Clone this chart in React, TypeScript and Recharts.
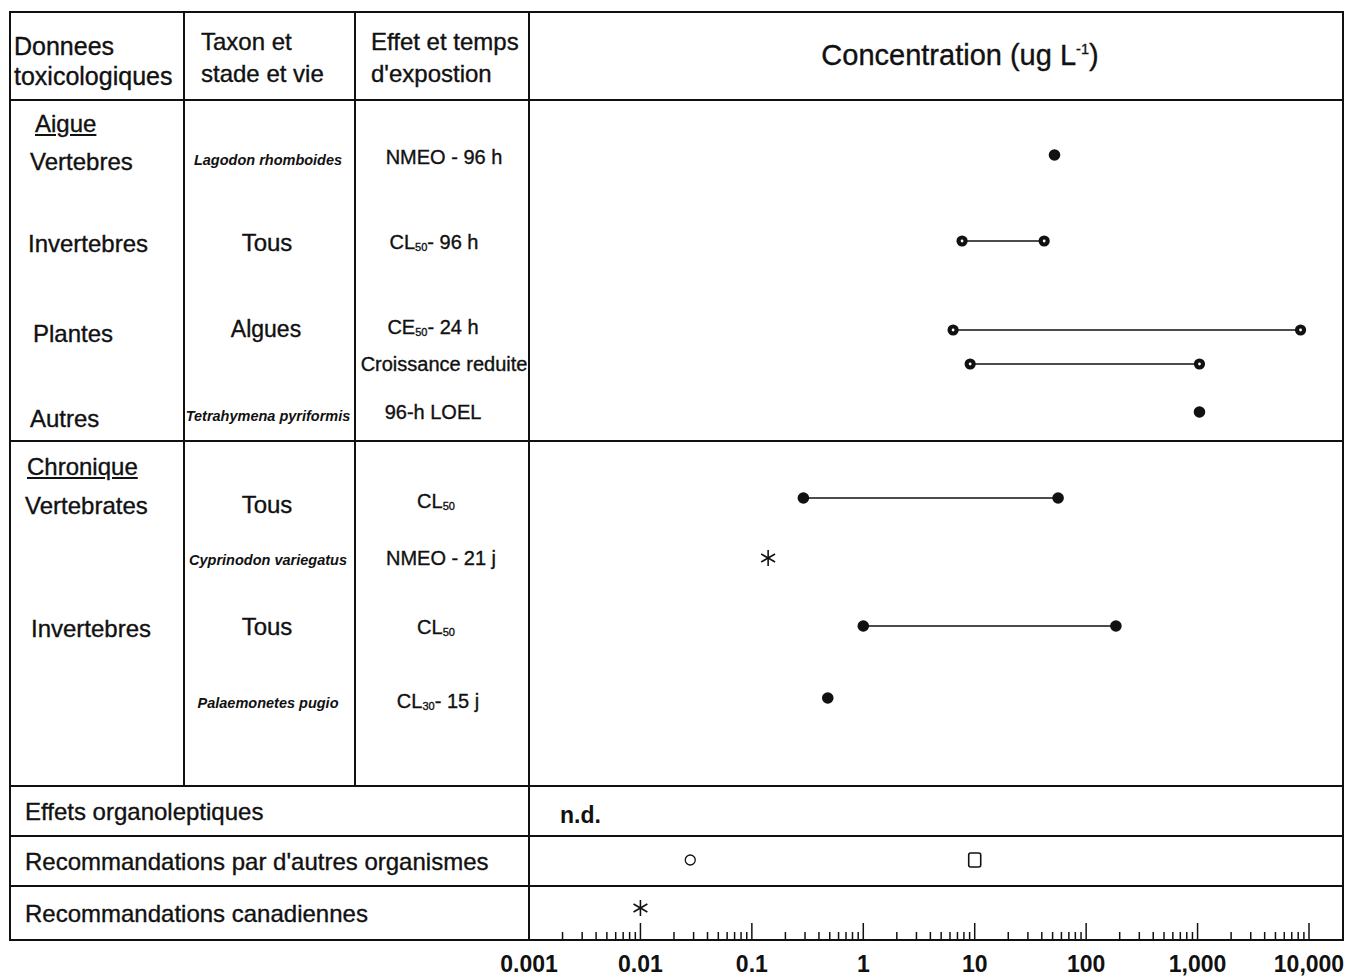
import React from 'react';
import { ScatterChart, Scatter, XAxis, YAxis } from 'recharts';

// concentrations (ug/L)
const aigueVertebres = [52];
const aigueInvertebres = [7.7, 42];
const plantesCE50 = [6.4, 8400];
const plantesCroissance = [9.1, 1040];
const autresLOEL = [1040];
const chroniqueVertebres = [0.29, 56];
const cyprinodonNMEO = [0.14];
const chroniqueInvertebres = [1.0, 185];
const palaemonetesCL30 = [0.48];
const autresOrganismesCercle = [0.028];
const autresOrganismesCarre = [10];
const recommandationCanadienne = [0.01];

const tickValues = [0.001, 0.01, 0.1, 1, 10, 100, 1000, 10000];
const tickLabels = ['0.001', '0.01', '0.1', '1', '10', '100', '1,000', '10,000'];

// layout
const W = 1352;
const H = 977;
const PLOT = { left: 529, right: 1309, top: 12, bottom: 940 };
const INK = '#111';
const FONT = '"Liberation Sans", Arial, Helvetica, sans-serif';
const STROKE = '0.35px #111';

// vertical centre (page px) of each row of the table
const rowY: Record<string, number> = {
  aigueVert: 155,
  aigueInv: 241,
  plantesCE: 330,
  plantesCroiss: 364,
  autres: 412,
  chronVert: 498,
  cyprinodon: 558,
  chronInv: 626,
  palaemonetes: 698,
  autresOrg: 860,
  canada: 908,
};

const minorTicks: number[] = [];
for (let e = -3; e < 4; e++) {
  for (let m = 2; m <= 9; m++) minorTicks.push(+(m * Math.pow(10, e)).toPrecision(3));
}
const allTicks = [...tickValues, ...minorTicks].sort((a, b) => a - b);

const dot = (p: any) => <circle cx={p.cx} cy={p.cy} r={5.8} fill={INK} />;
const dotHole = (p: any) => (
  <g>
    <circle cx={p.cx} cy={p.cy} r={5.6} fill={INK} />
    <circle cx={p.cx} cy={p.cy} r={1.4} fill="#fff" />
  </g>
);
const ring = (p: any) => <circle cx={p.cx} cy={p.cy} r={5} fill="#fff" stroke={INK} strokeWidth={1.3} />;
const square = (p: any) => (
  <rect x={p.cx - 6} y={p.cy - 7} width={12} height={14} rx={2} fill="#fff" stroke={INK} strokeWidth={1.6} />
);
const star = (p: any) => {
  const r = 8;
  const a = (Math.PI / 180) * 30;
  return (
    <g stroke={INK} strokeWidth={1.6}>
      <line x1={p.cx} x2={p.cx} y1={p.cy - r} y2={p.cy + r} />
      <line x1={p.cx - r * Math.cos(a)} x2={p.cx + r * Math.cos(a)} y1={p.cy - r * Math.sin(a)} y2={p.cy + r * Math.sin(a)} />
      <line x1={p.cx - r * Math.cos(a)} x2={p.cx + r * Math.cos(a)} y1={p.cy + r * Math.sin(a)} y2={p.cy - r * Math.sin(a)} />
    </g>
  );
};

const series = [
  { key: 'aigueVert', values: aigueVertebres, shape: dot },
  { key: 'aigueInv', values: aigueInvertebres, shape: dotHole },
  { key: 'plantesCE', values: plantesCE50, shape: dotHole },
  { key: 'plantesCroiss', values: plantesCroissance, shape: dotHole },
  { key: 'autres', values: autresLOEL, shape: dot },
  { key: 'chronVert', values: chroniqueVertebres, shape: dot },
  { key: 'cyprinodon', values: cyprinodonNMEO, shape: star },
  { key: 'chronInv', values: chroniqueInvertebres, shape: dot },
  { key: 'palaemonetes', values: palaemonetesCL30, shape: dot },
  { key: 'autresOrg', values: autresOrganismesCercle, shape: ring },
  { key: 'autresOrg', values: autresOrganismesCarre, shape: square },
  { key: 'canada', values: recommandationCanadienne, shape: star },
];

const AxisTick = (props: any) => {
  const { x, y, payload } = props;
  const v = payload.value;
  const i = tickValues.findIndex((t) => Math.abs(Math.log10(t) - Math.log10(v)) < 1e-6);
  const major = i >= 0;
  return (
    <g>
      {v > 0.001 && (
        <line x1={x} x2={x} y1={y} y2={y - (major ? 17 : 8)} stroke={INK} strokeWidth={1.5} />
      )}
      {major && (
        <text x={x} y={y + 32} textAnchor="middle" fontFamily={FONT} fontWeight={700} fontSize={23} fill={INK}>
          {tickLabels[i]}
        </text>
      )}
    </g>
  );
};

const HLine = ({ y, x1, x2, w = 2 }: any) => (
  <div style={{ position: 'absolute', left: x1, top: y - w / 2, width: x2 - x1, height: w, background: INK }} />
);
const VLine = ({ x, y1, y2, w = 2 }: any) => (
  <div style={{ position: 'absolute', left: x - w / 2, top: y1, width: w, height: y2 - y1, background: INK }} />
);

const T = ({ x, y, size, center, style, children }: any) => (
  <div
    style={{
      position: 'absolute',
      left: x,
      top: y,
      fontSize: size,
      lineHeight: 1,
      whiteSpace: 'nowrap',
      color: INK,
      WebkitTextStroke: STROKE,
      transform: `translate(${center ? '-50%' : '0'}, -50%)`,
      ...style,
    }}
  >
    {children}
  </div>
);

const Sub = ({ children }: any) => (
  <span style={{ fontSize: '0.55em', position: 'relative', top: '0.2em' }}>{children}</span>
);

const Species = ({ y, children }: any) => (
  <T x={268} y={y} size={14.5} center style={{ fontStyle: 'italic', fontWeight: 700, WebkitTextStroke: '0' }}>
    {children}
  </T>
);

export default function App() {
  const yLevel = (key: string) => rowY[key] - PLOT.top;
  return (
    <div style={{ position: 'absolute', left: 0, top: 0, width: W, height: H, background: '#fff', fontFamily: FONT }}>
      {/* table frame */}
      {[12, 100, 441, 786, 836, 886, 940].map((y) => (
        <HLine key={y} y={y} x1={9} x2={1344} />
      ))}
      <VLine x={10} y1={12} y2={941} />
      <VLine x={184} y1={12} y2={786} />
      <VLine x={355} y1={12} y2={786} />
      <VLine x={529} y1={12} y2={941} />
      <VLine x={1343} y1={12} y2={941} w={2.5} />

      {/* header */}
      <T x={14} y={46} size={25}>Donnees</T>
      <T x={14} y={76} size={25}>toxicologiques</T>
      <T x={201} y={42} size={24}>Taxon et</T>
      <T x={201} y={74} size={24}>stade et vie</T>
      <T x={371} y={42} size={24}>Effet et temps</T>
      <T x={371} y={74} size={24}>d'expostion</T>
      <T x={960} y={55} size={29} center>
        Concentration (ug L<sup style={{ fontSize: '0.5em' }}>-1</sup>)
      </T>

      {/* first column */}
      <T x={35} y={124} size={24} style={{ textDecoration: 'underline' }}>Aigue</T>
      <T x={30} y={162} size={24}>Vertebres</T>
      <T x={28} y={244} size={24}>Invertebres</T>
      <T x={33} y={334} size={24}>Plantes</T>
      <T x={30} y={419} size={24}>Autres</T>
      <T x={27} y={467} size={24} style={{ textDecoration: 'underline' }}>Chronique</T>
      <T x={25} y={506} size={24}>Vertebrates</T>
      <T x={31} y={629} size={24}>Invertebres</T>

      {/* second column */}
      <Species y={160}>Lagodon rhomboides</Species>
      <T x={267} y={243} size={24} center>Tous</T>
      <T x={266} y={329} size={23} center>Algues</T>
      <Species y={416}>Tetrahymena pyriformis</Species>
      <T x={267} y={505} size={24} center>Tous</T>
      <Species y={560}>Cyprinodon variegatus</Species>
      <T x={267} y={627} size={24} center>Tous</T>
      <Species y={703}>Palaemonetes pugio</Species>

      {/* third column */}
      <T x={444} y={157} size={20} center>NMEO - 96 h</T>
      <T x={434} y={242} size={20} center>CL<Sub>50</Sub>- 96 h</T>
      <T x={433} y={327} size={20} center>CE<Sub>50</Sub>- 24 h</T>
      <T x={444} y={364} size={20} center>Croissance reduite</T>
      <T x={433} y={412} size={20} center>96-h LOEL</T>
      <T x={436} y={501} size={20} center>CL<Sub>50</Sub></T>
      <T x={441} y={558} size={20} center>NMEO - 21 j</T>
      <T x={436} y={627} size={20} center>CL<Sub>50</Sub></T>
      <T x={438} y={701} size={20} center>CL<Sub>30</Sub>- 15 j</T>

      {/* bottom rows */}
      <T x={25} y={812} size={24}>Effets organoleptiques</T>
      <T x={25} y={862} size={24}>Recommandations par d'autres organismes</T>
      <T x={25} y={914} size={24}>Recommandations canadiennes</T>
      <T x={560} y={815} size={23} style={{ fontWeight: 700, WebkitTextStroke: '0' }}>n.d.</T>

      <div style={{ position: 'absolute', left: 0, top: 0 }}>
        <ScatterChart
          width={W}
          height={H}
          margin={{ top: PLOT.top, right: W - PLOT.right, bottom: H - PLOT.bottom - 30, left: PLOT.left }}
        >
          <XAxis
            type="number"
            dataKey="x"
            scale="log"
            domain={[0.001, 10000]}
            allowDataOverflow
            ticks={allTicks}
            interval={0}
            height={30}
            axisLine={false}
            tickLine={false}
            tickSize={0}
            tickMargin={0}
            tick={<AxisTick />}
          />
          <YAxis type="number" dataKey="y" domain={[0, PLOT.bottom - PLOT.top]} reversed hide />
          {series.map((s, i) => (
            <Scatter
              key={i}
              data={s.values.map((v) => ({ x: v, y: yLevel(s.key) }))}
              line={s.values.length > 1 ? { stroke: INK, strokeWidth: 1.6 } : false}
              shape={s.shape}
              isAnimationActive={false}
            />
          ))}
        </ScatterChart>
      </div>
    </div>
  );
}
